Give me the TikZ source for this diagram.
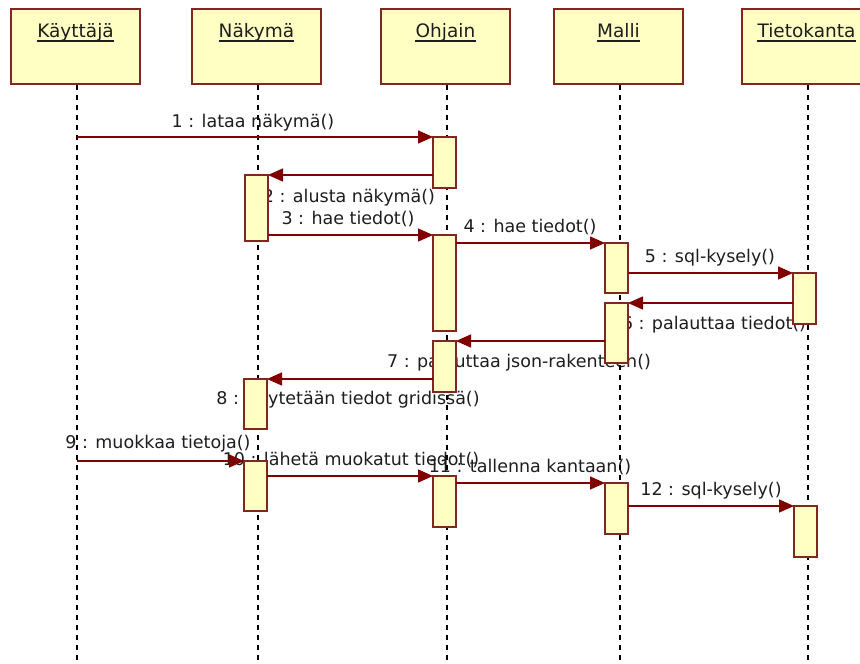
\documentclass[tikz,border=0pt]{standalone}
\usepackage{fontspec}
\setmainfont{DejaVu Sans}
\usetikzlibrary{arrows.meta}
\definecolor{boxfill}{RGB}{255,255,196}
\definecolor{boxline}{RGB}{128,40,32}
\definecolor{msgred}{RGB}{128,0,0}
\definecolor{ink}{RGB}{30,30,30}
\tikzset{
  x=1pt, y=-1pt,
  head/.style={draw=boxline, line width=2pt, fill=boxfill, minimum width=129pt,
    minimum height=75pt, inner sep=0pt, anchor=north west},
  headname/.style={anchor=base, inner sep=0pt, text=ink, font=\fontsize{18.5}{21}\selectfont},
  nameline/.style={line width=1.2pt, draw=ink},
  lifeline/.style={line width=1.5pt, dash pattern=on 5pt off 5pt},
  act/.style={draw=boxline, line width=1.5pt, fill=boxfill, minimum width=23pt,
    inner sep=0pt, outer sep=0pt, anchor=north west},
  msg/.style={draw=msgred, line width=1.5pt, -{Triangle[length=15pt,width=13pt]}, color=msgred},
  msglbl/.style={anchor=base, inner sep=0pt, text=ink, font=\fontsize{17.5}{20}\selectfont}
}
\begin{document}
\begin{tikzpicture}
\clip (0,0) rectangle (860,664);
\fill[white] (0,0) rectangle (860,664);

% object heads
\node[head] (k) at (10,8) {};
\node[head] (n) at (191,8) {};
\node[head] (o) at (380,8) {};
\node[head] (m) at (553,8) {};
\node[head] (t) at (741,8) {};

\node[headname] (kname) at ([yshift=-29pt]k.north) {Käyttäjä};
\node[headname] (nname) at ([yshift=-29pt]n.north) {Näkymä};
\node[headname] (oname) at ([yshift=-29pt]o.north) {Ohjain};
\node[headname] (mname) at ([yshift=-29pt]m.north) {Malli};
\node[headname] (tname) at ([yshift=-29pt]t.north) {Tietokanta};
\foreach \h in {kname,nname,oname,mname,tname}
  \draw[nameline] ([yshift=-4pt]\h.base west) -- ([yshift=-4pt]\h.base east);

% message labels (drawn first, boxes and arrows go over them)
\node[msglbl] (l1)  at (253,127) {1 : lataa näkymä()};
\node[msglbl] (l2)  at (349,202) {2 : alusta näkymä()};
\node[msglbl] (l3)  at (348,224) {3 : hae tiedot()};
\node[msglbl] (l4)  at (530,232) {4 : hae tiedot()};
\node[msglbl] (l5)  at (710,262) {5 : sql-kysely()};
\node[msglbl] (l6)  at (714,329) {6 : palauttaa tiedot()};
\node[msglbl] (l7)  at (519,367) {7 : palauttaa json-rakenteen()};
\node[msglbl] (l8)  at (348,404) {8 : näytetään tiedot gridissä()};
\node[msglbl] (l9)  at (158,448) {9 : muokkaa tietoja()};
\node[msglbl] (l10) at (351,465) {10 : lähetä muokatut tiedot()};
\node[msglbl] (l11) at (530,472) {11 : tallenna kantaan()};
\node[msglbl] (l12) at (711,495) {12 : sql-kysely()};

% lifelines
\coordinate (klife) at ([xshift=1.5pt]k.south);
\coordinate (nlife) at ([xshift=1.5pt]n.south);
\coordinate (olife) at ([xshift=1.5pt]o.south);
\coordinate (mlife) at ([xshift=1.5pt]m.south);
\coordinate (tlife) at ([xshift=1.5pt]t.south);
\coordinate (kend) at (klife |- 0,670);
\coordinate (nend) at (nlife |- 0,670);
\coordinate (oend) at (olife |- 0,670);
\coordinate (mend) at (mlife |- 0,670);
\coordinate (tend) at (tlife |- 0,670);
\draw[lifeline] (klife) -- (kend);
\draw[lifeline] (nlife) -- (nend);
\draw[lifeline] (olife) -- (oend);
\draw[lifeline] (mlife) -- (mend);
\draw[lifeline] (tlife) -- (tend);

% activation bars
\node[act, minimum height=51pt] (o1) at (433,137) {};
\node[act, minimum height=66pt] (n1) at (245,175) {};
\node[act, minimum height=96pt] (o2) at (433,235) {};
\node[act, minimum height=50pt] (m1) at (605,243) {};
\node[act, minimum height=51pt] (t1) at (793,273) {};
\node[act, minimum height=60pt] (m2) at (605,303) {};
\node[act, minimum height=51pt] (o3) at (433,341) {};
\node[act, minimum height=50pt] (n2) at (244,379) {};
\node[act, minimum height=50pt] (n3) at (244,461) {};
\node[act, minimum height=51pt] (o4) at (433,476) {};
\node[act, minimum height=51pt] (m3) at (605,483) {};
\node[act, minimum height=51pt] (t2) at (794,506) {};

% messages
\draw[msg] (klife |- o1.north west) -- (o1.north west);
\draw[msg] (o1.west |- n1.north east) -- (n1.north east);
\draw[msg] (n1.east |- o2.north west) -- (o2.north west);
\draw[msg] (o2.east |- m1.north west) -- (m1.north west);
\draw[msg] (m1.east |- t1.north west) -- (t1.north west);
\draw[msg] (t1.west |- m2.north east) -- (m2.north east);
\draw[msg] (m2.west |- o3.north east) -- (o3.north east);
\draw[msg] (o3.west |- n2.north east) -- (n2.north east);
\draw[msg] (klife |- n3.north west) -- (n3.north west);
\draw[msg] (n3.east |- o4.north west) -- (o4.north west);
\draw[msg] (o4.east |- m3.north west) -- (m3.north west);
\draw[msg] (m3.east |- t2.north west) -- (t2.north west);
\end{tikzpicture}
\end{document}
